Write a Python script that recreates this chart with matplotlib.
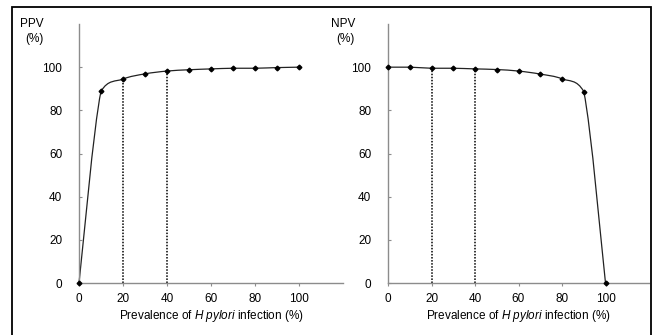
import numpy as np
import matplotlib
matplotlib.use("Agg")
import matplotlib.pyplot as plt
from matplotlib.path import Path
from matplotlib.patches import PathPatch, Rectangle

# --- data ---
prevalence = [0, 10, 20, 30, 40, 50, 60, 70, 80, 90, 100]
ppv = [0, 88.8, 94.5, 96.9, 98.2, 98.8, 99.2, 99.5, 99.5, 99.8, 100]
npv = [100, 100, 99.5, 99.5, 99.2, 98.9, 98.2, 96.8, 94.6, 88.7, 0]
marked_x = [20, 40]
x_ticks = [0, 20, 40, 60, 80, 100]
y_ticks = [0, 20, 40, 60, 80, 100]

plt.rcParams['font.family'] = ['Liberation Sans', 'DejaVu Sans']
plt.rcParams['mathtext.fontset'] = 'custom'
plt.rcParams['mathtext.it'] = 'Liberation Sans:italic'
plt.rcParams['mathtext.rm'] = 'Liberation Sans'
FS = 8.5
GREY = '#8c8c8c'


def smooth_line(ax, x, y):
    """Excel-like smoothed line: Catmull-Rom handles, clamped to each segment."""
    p = np.column_stack([x, y]).astype(float)
    n = len(p)
    verts = [tuple(p[0])]
    codes = [Path.MOVETO]
    for i in range(n - 1):
        a, b = p[i], p[i + 1]
        prev = p[i - 1] if i > 0 else p[i]
        nxt = p[i + 2] if i + 2 < n else p[i + 1]
        c1 = a + (b - prev) / 6
        c2 = b - (nxt - a) / 6
        lo, hi = min(a[1], b[1]), max(a[1], b[1])
        c1[1] = np.clip(c1[1], lo, hi)
        c2[1] = np.clip(c2[1], lo, hi)
        verts += [tuple(c1), tuple(c2), tuple(b)]
        codes += [Path.CURVE4] * 3
    ax.add_patch(PathPatch(Path(verts, codes), fill=False, ec='#222222',
                           lw=0.9, clip_on=False))


def draw_panel(ax, values, label, label_x):
    ax.set_xlim(0, 120)
    ax.set_ylim(0, 120)
    smooth_line(ax, prevalence, values)
    ax.plot(prevalence, values, ls='none', marker='D', ms=2.4,
            color='black', clip_on=False, zorder=3)
    for xv in marked_x:
        yv = values[prevalence.index(xv)]
        ax.plot([xv, xv], [0, yv], ls=(0, (1, 1)), color='black', lw=1.1)

    for s in ['top', 'right']:
        ax.spines[s].set_visible(False)
    for s in ['left', 'bottom']:
        ax.spines[s].set_color(GREY)
        ax.spines[s].set_linewidth(1.0)
    ax.set_xticks(x_ticks)
    ax.set_yticks(y_ticks)
    ax.tick_params(axis='x', length=2.5, width=0.8, color=GREY, pad=5, labelsize=FS)
    ax.tick_params(axis='y', direction='in', length=2.5, width=0.8, color=GREY,
                   pad=12, labelsize=FS)
    ax.set_xlabel('Prevalence of $\\mathit{H}$ $\\mathit{pylori}$ infection (%)',
                  fontsize=FS, labelpad=1.5)
    fig.text(label_x, 1 - 24 / 335, label, fontsize=FS, ha='center', va='center')
    fig.text(label_x + 0.003, 1 - 39 / 335, '(%)', fontsize=FS, ha='center', va='center')


fig = plt.figure(figsize=(6.57, 3.35), dpi=100)
ax1 = fig.add_axes([79 / 657, 52 / 335, 264 / 657, 259 / 335])
ax2 = fig.add_axes([388 / 657, 52 / 335, 261 / 657, 259 / 335])

draw_panel(ax1, ppv, 'PPV', 32 / 657)
draw_panel(ax2, npv, 'NPV', 343 / 657)

# outer frame (bottom edge falls outside the image)
fig.patches.append(Rectangle((12 / 657, -0.05), 639 / 657, 1.05 - 7 / 335,
                             transform=fig.transFigure, fill=False,
                             ec='black', lw=1.3))

fig.savefig('out.png', dpi=100)
